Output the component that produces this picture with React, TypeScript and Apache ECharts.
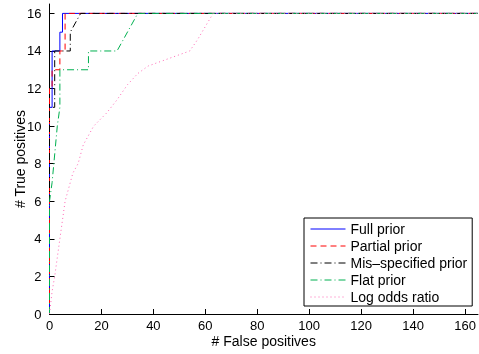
import React, { useEffect, useRef } from "react";
import * as echarts from "echarts";

const seriesNames = ["Full prior", "Partial prior", "Mis–specified prior", "Flat prior", "Log odds ratio"];

const fullPrior: number[][] = [[0, 0], [0, 11], [1, 11], [1, 14], [4, 14], [4, 15], [5, 15], [5, 16], [165, 16]];
const partialPrior: number[][] = [[0, 0], [0, 12], [1, 12], [1, 13], [4, 13], [4, 14], [6, 14], [6, 16], [165, 16]];
const misPrior: number[][] = [[0, 0], [0, 11], [2, 11], [2, 14], [8, 14], [8, 15], [12, 16], [165, 16]];
const flatPrior: number[][] = [[0, 0], [0, 6], [1, 7], [3, 10], [4, 11], [4, 13], [15, 13], [15, 14], [26, 14], [34, 16], [165, 16]];
const logOdds: number[][] = [
  [0, 0], [1, 1.2], [2, 2], [3, 3], [4, 4], [5, 5], [6, 6], [7, 6.5], [9, 7.5], [11, 8], [13, 9], [17, 10],
  [22, 10.7], [26, 11.4], [30, 12.2], [34, 12.8], [38, 13.2], [44, 13.5], [50, 13.8], [54, 14], [57, 14.6],
  [60, 15.3], [63, 16], [165, 16],
];

const xTicks = [0, 20, 40, 60, 80, 100, 120, 140, 160];
const yTicks = [0, 2, 4, 6, 8, 10, 12, 14, 16];

const colors = ["#0000ff", "#ff0000", "#000000", "#00b050", "#ff66b3"];
const dashes: any[] = ["solid", [6, 4], [7, 3, 1, 3], [7, 3, 1, 3], [1, 3]];

export default function App() {
  const ref = useRef<HTMLDivElement>(null);
  useEffect(() => {
    const chart = echarts.init(ref.current!, null, { renderer: "svg" });
    const allData = [fullPrior, partialPrior, misPrior, flatPrior, logOdds];
    const font = "Liberation Sans, Arial, sans-serif";
    chart.setOption({
      animation: false,
      textStyle: { fontFamily: font },
      grid: { left: 49.5, right: 1, top: 4, bottom: 40, outerBoundsMode: "none", containLabel: false },
      xAxis: {
        type: "value",
        min: 0,
        max: 165,
        name: "# False positives",
        nameLocation: "middle",
        nameGap: 20,
        nameMoveOverlap: false,
        nameTextStyle: { fontSize: 14, color: "#000", fontFamily: font },
        axisLine: { lineStyle: { color: "#000", width: 1 } },
        axisTick: { inside: true, length: 5, customValues: xTicks, lineStyle: { color: "#000" } },
        axisLabel: { customValues: xTicks, fontSize: 13, color: "#000", margin: 5, fontFamily: font },
        splitLine: { show: false },
      },
      yAxis: {
        type: "value",
        min: 0,
        max: 16.5,
        name: "# True positives",
        nameLocation: "middle",
        nameGap: 23,
        nameMoveOverlap: false,
        nameRotate: 90,
        nameTextStyle: { fontSize: 14, color: "#000", fontFamily: font },
        axisLine: { show: true, lineStyle: { color: "#000", width: 1 } },
        axisTick: { show: true, inside: true, length: 5, customValues: yTicks, lineStyle: { color: "#000" } },
        axisLabel: { customValues: yTicks, fontSize: 13, color: "#000", margin: 8, fontFamily: font },
        splitLine: { show: false },
      },
      legend: {
        orient: "vertical",
        left: 304,
        top: 218,
        padding: [4, 5, 2, 6],
        itemGap: 3,
        itemWidth: 35,
        itemHeight: 14,
        borderColor: "#000",
        borderWidth: 1,
        backgroundColor: "#fff",
        itemStyle: { opacity: 0 },
        lineStyle: { width: 1 },
        textStyle: { fontSize: 14, color: "#000", fontFamily: font, padding: [0, 0, 0, 0] },
        data: seriesNames,
      },
      series: seriesNames.map((name, i) => ({
        name,
        type: "line",
        data: allData[i],
        symbol: "none",
        color: colors[i],
        lineStyle: { color: colors[i], width: 1, type: dashes[i] },
        z: 2 + i,
      })),
    });
    return () => chart.dispose();
  }, []);
  return <div ref={ref} style={{ position: "fixed", left: 0, top: 0, width: 479, height: 354 }} />;
}
